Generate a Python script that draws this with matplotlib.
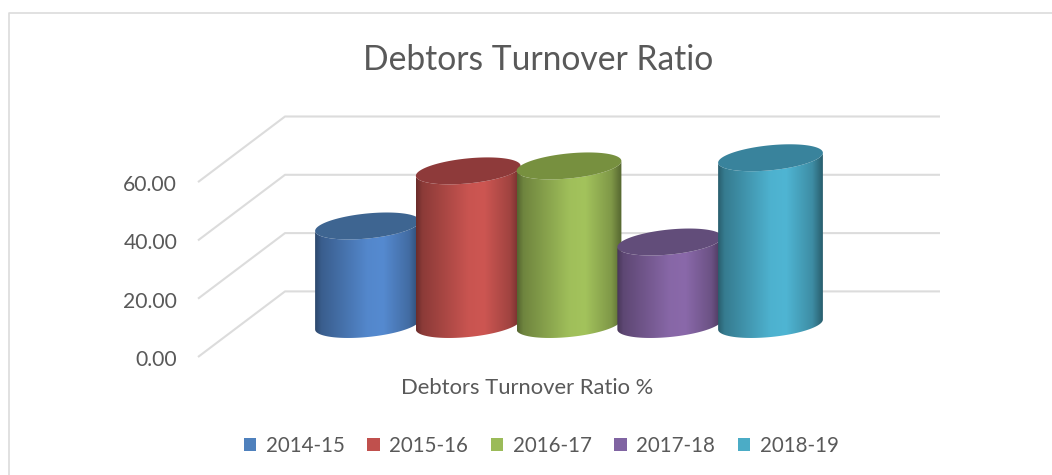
#Debtors turnover ratio, fake 3D cylinders
import matplotlib
matplotlib.use("Agg")
import matplotlib.pyplot as plt
import numpy as np
from matplotlib.lines import Line2D
from matplotlib.patches import Patch, Polygon
from matplotlib.transforms import ScaledTranslation

years = ["2014-15", "2015-16", "2016-17", "2017-18", "2018-19"]
ratio = [33.8, 52.7, 54.4, 28.3, 57.2]
yticks = [0, 20, 40, 60]
ytick_labels = ["0.00", "20.00", "40.00", "60.00"]
xlabel = "Debtors Turnover Ratio %"
title = "Debtors Turnover Ratio"

legend_cols = ["#4f81bd", "#c0504d", "#9bbb59", "#8064a2", "#4bacc6"]
mid_cols = ["#558ad0", "#cd5652", "#a3c35c", "#8a69aa", "#4fb5d3"]
top_cols = ["#3e6591", "#8e3a3a", "#77903f", "#624d7a", "#39839c"]
grid_col = "#dcdcdc"
text_col = "#595959"

W, H = 1052, 475
plt.rcParams['font.family'] = ['Lato', 'DejaVu Sans']

fig = plt.figure(figsize=(W/100, H/100), dpi=100)

#plot area in pixels, front left corner of the floor is 198,357
left, right, bottom, top = 198, 940, 357, 116.7
ax = fig.add_axes([left/W, 1-bottom/H, (right-left)/W, (bottom-top)/H])
px_x = 100.75    #pixels per category
px_y = 2.915     #pixels per unit
xmin = (left-367.5)/px_x
xmax = (right-367.5)/px_x
ymax = (bottom-top)/px_y

#walls: diagonal on the side, then flat across the back
dx = 87/px_x
dy = 65.6/px_y
for v in yticks:
    ax.plot([xmin, xmin+dx, xmax], [v, v+dy, v+dy], color=grid_col, lw=1.5, zorder=1,
            solid_capstyle='butt', clip_on=False)

#cylinders
half_w = 0.52
tilt = 1.7
minor = 4.3
floor = 11.15
stops = [0.0, 0.06, 0.5, 0.65, 0.9, 1.0]
shade = [0.52, 0.68, 0.98, 1.0, 0.78, 0.52]
xs = np.linspace(0, 1, 200)
fac = np.interp(xs, stops, shade)

for i in range(len(years)):
    z = 2+i
    rgb = np.array(matplotlib.colors.to_rgb(mid_cols[i]))
    img = (fac[:, None]*rgb)[None, :, :]
    ybase = floor
    ytop = floor+ratio[i]

    t = np.linspace(np.pi, 2*np.pi, 60)
    lowx = i+half_w*np.cos(t)
    lowy = ybase+tilt*np.cos(t)+minor*np.sin(t)
    upx = i+half_w*np.cos(t[::-1])
    upy = ytop+tilt*np.cos(t[::-1])+minor*np.sin(t[::-1])
    body = Polygon(np.column_stack([np.r_[lowx, upx], np.r_[lowy, upy]]), closed=True,
                   facecolor='none', edgecolor='none', transform=ax.transData, zorder=z)
    ax.add_patch(body)
    im = ax.imshow(img, extent=[i-half_w, i+half_w, ybase-8, ytop+8], aspect='auto', zorder=z,
                   interpolation='bilinear')
    im.set_clip_path(body)

    t2 = np.linspace(0, 2*np.pi, 120)
    ax.fill(i+half_w*np.cos(t2), ytop+tilt*np.cos(t2)+minor*np.sin(t2), color=top_cols[i],
            lw=0, zorder=z+0.5)

ax.set_xlim(xmin, xmax)
ax.set_ylim(0, ymax)
ax.set_xticks([])
ax.set_yticks(yticks)
ax.set_yticklabels(ytick_labels, fontsize=15.2, color=text_col)
ax.tick_params(axis='y', length=0, pad=15)
#labels sit a little under their gridline ends
shift = ScaledTranslation(0, -1/100, fig.dpi_scale_trans)
for lab in ax.get_yticklabels():
    lab.set_transform(lab.get_transform()+shift)
for s in ax.spines.values():
    s.set_visible(False)
ax.patch.set_alpha(0)

ax.set_xlabel(xlabel, fontsize=15.8, color=text_col)
ax.xaxis.set_label_coords((527-left)/(right-left), -(388-bottom)/(bottom-top), transform=ax.transAxes)
ax.xaxis.label.set_verticalalignment('center')

fig.text(538.5/W, 1-60/H, title, ha='center', va='center', fontsize=24.2, color=text_col)

#outer frame, only top and left are in the crop
fig.add_artist(Line2D([9/W, 9/W, 1], [0, 1-13/H, 1-13/H], color=grid_col, lw=1.2))

handles = [Patch(facecolor=c, edgecolor='none') for c in legend_cols]
fig.legend(handles, years, loc='center', bbox_to_anchor=(541/W, 1-446/H), ncols=5, frameon=False,
           fontsize=14.8, labelcolor=text_col, handlelength=0.62, handleheight=0.62,
           handletextpad=0.45, columnspacing=1.1, borderpad=0, borderaxespad=0)

plt.savefig('out.png', dpi=100)
